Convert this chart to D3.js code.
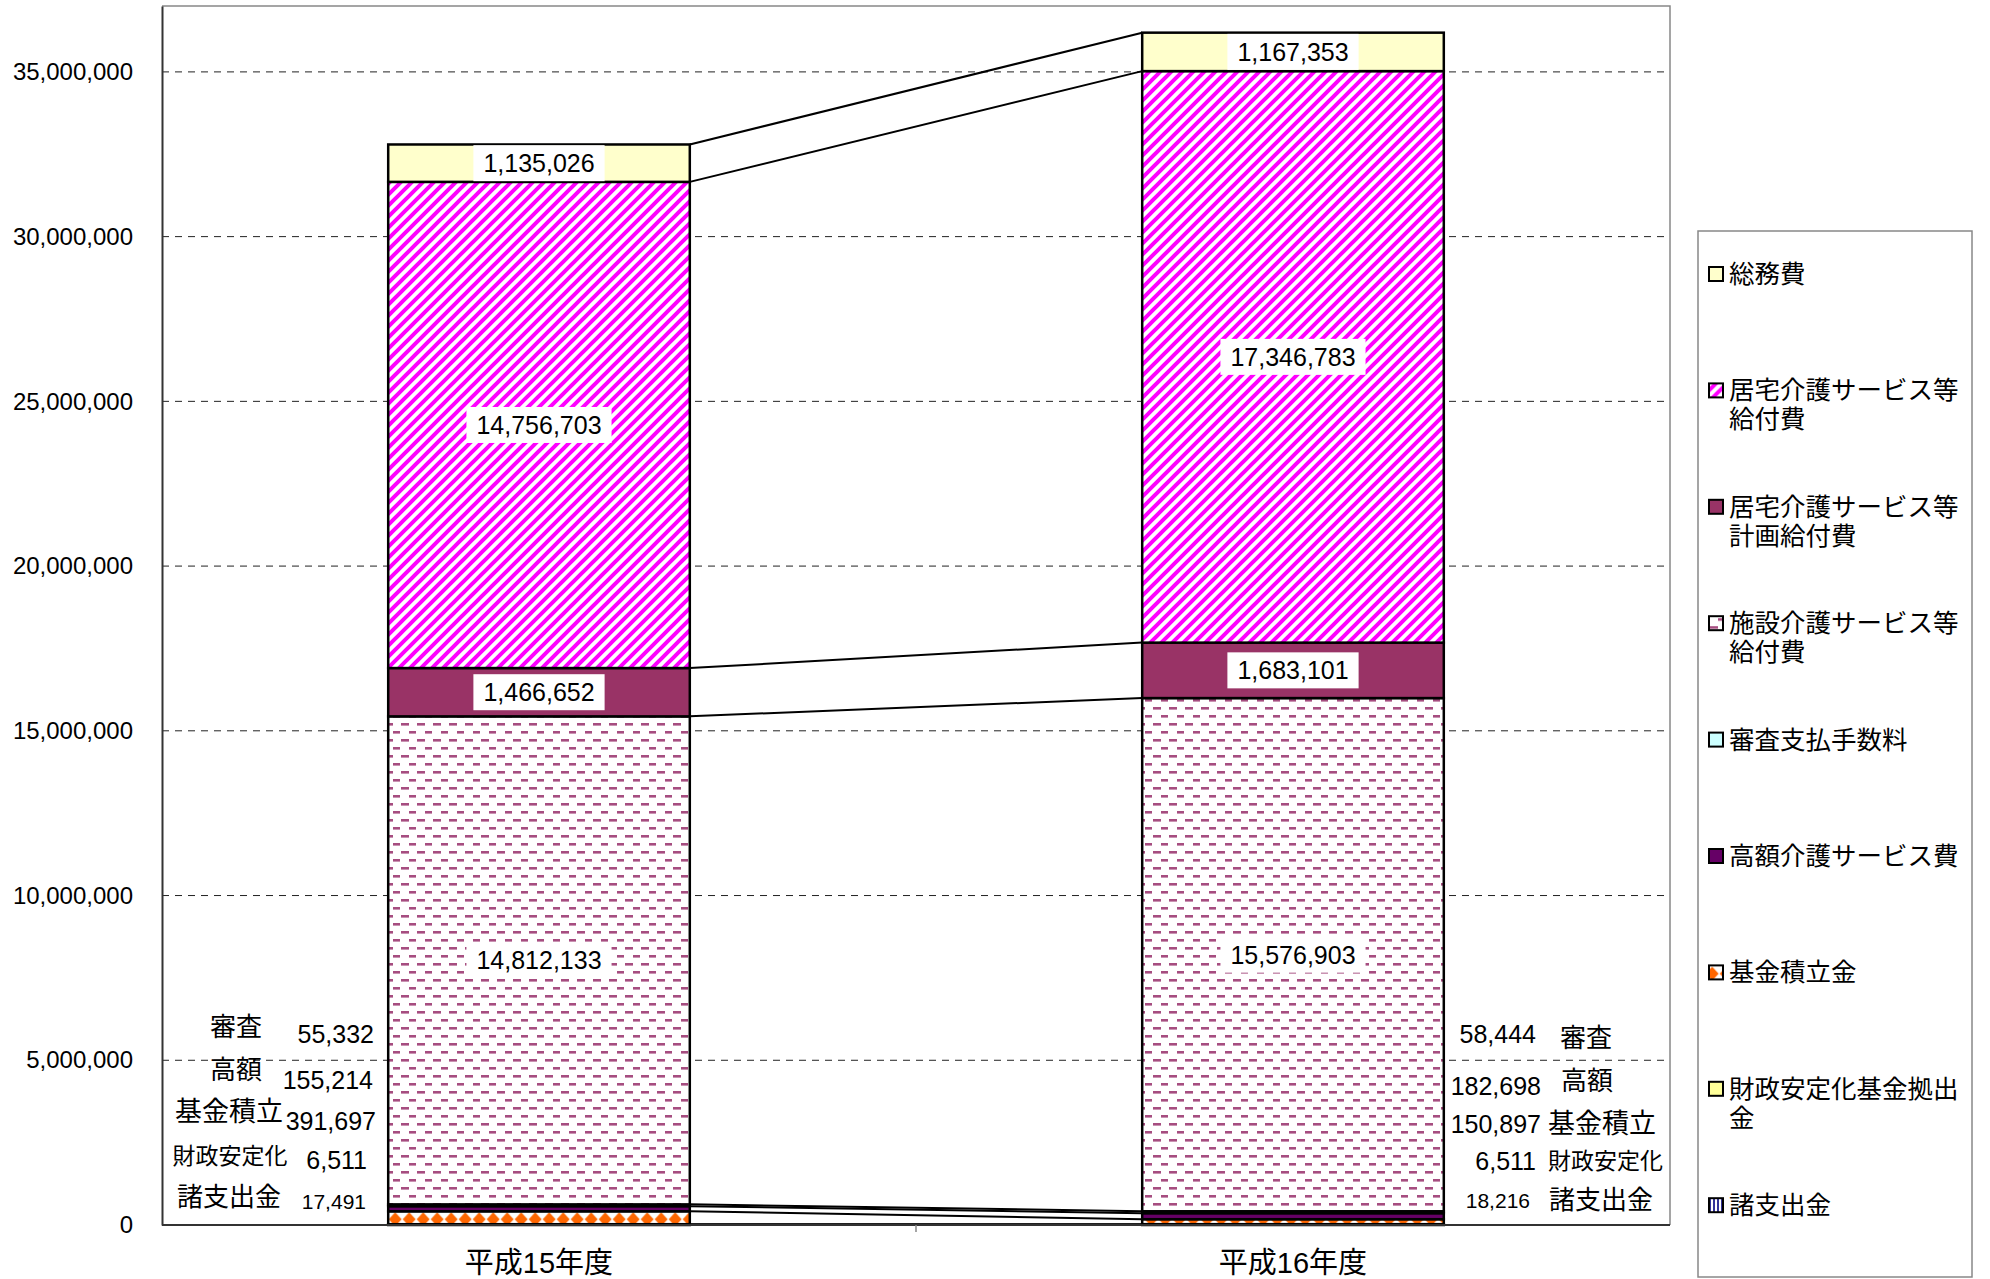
<!DOCTYPE html>
<html>
<head>
<meta charset="utf-8">
<script src="https://cdn.jsdelivr.net/npm/d3@7"></script>
<style>
  body { margin: 0; background: #fff; }
  svg { display: block; font-family: "Liberation Sans", "Noto Sans CJK JP", sans-serif; }
</style>
</head>
<body>
<div id="chart"></div>
<script>
// data
var categories = ["平成15年度", "平成16年度"];
var soumu = [1135026, 1167353];          // 総務費
var kyotakuKyufu = [14756703, 17346783]; // 居宅介護サービス等給付費
var keikaku = [1466652, 1683101];        // 居宅介護サービス等計画給付費
var shisetsu = [14812133, 15576903];     // 施設介護サービス等給付費
var shinsa = [55332, 58444];             // 審査支払手数料
var kougaku = [155214, 182698];          // 高額介護サービス費
var kikin = [391697, 150897];            // 基金積立金
var zaisei = [6511, 6511];               // 財政安定化基金拠出金
var shoshishutsu = [17491, 18216];       // 諸支出金
var yTicks = [0, 5000000, 10000000, 15000000, 20000000, 25000000, 30000000, 35000000];

// legend order (top to bottom)
var legendLabels = [
  ["総務費"],
  ["居宅介護サービス等", "給付費"],
  ["居宅介護サービス等", "計画給付費"],
  ["施設介護サービス等", "給付費"],
  ["審査支払手数料"],
  ["高額介護サービス費"],
  ["基金積立金"],
  ["財政安定化基金拠出", "金"],
  ["諸支出金"]
];
var keys = ["soumu", "kyotakuKyufu", "keikaku", "shisetsu", "shinsa", "kougaku", "kikin", "zaisei", "shoshishutsu"];
var fills = ["#FFFFCC", "url(#pStripe)", "#993366", "url(#pDash)", "#CCFFFF", "#660066", "url(#pDiamond)", "#FFFF99", "url(#pVert)"];
// small segments annotated beside the bars
var smallKeys = ["shinsa", "kougaku", "kikin", "zaisei", "shoshishutsu"];
var smallNames = ["審査", "高額", "基金積立", "財政安定化", "諸支出金"];
var bigKeys = ["soumu", "kyotakuKyufu", "keikaku", "shisetsu"];

var seriesData = {
  soumu: soumu, kyotakuKyufu: kyotakuKyufu, keikaku: keikaku, shisetsu: shisetsu,
  shinsa: shinsa, kougaku: kougaku, kikin: kikin, zaisei: zaisei, shoshishutsu: shoshishutsu
};
var table = categories.map(function (c, i) {
  var row = { cat: c };
  keys.forEach(function (k) { row[k] = seriesData[k][i]; });
  return row;
});

var width = 1990, height = 1279;
var plot = { left: 162, right: 1670, top: 6, bottom: 1225 };

var svg = d3.select("#chart").append("svg")
  .attr("width", width)
  .attr("height", height);

// scales
var x = d3.scalePoint().domain(categories).range([plot.left, plot.right]).padding(0.5);
var barW = x.step() * 0.4;
var y = d3.scaleLinear().domain([0, 37000000]).range([plot.bottom, plot.top]);

var stackOrder = keys.slice().reverse(); // bottom -> top
var stacked = d3.stack().keys(stackOrder)(table);
var kikinLayer = stacked.filter(function (l) { return l.key == "kikin"; })[0];

// patterns
var defs = svg.append("defs");
var p1 = defs.append("pattern").attr("id", "pStripe").attr("patternUnits", "userSpaceOnUse")
  .attr("width", 11).attr("height", 11);
p1.append("rect").attr("width", 11).attr("height", 11).attr("fill", "#fff");
p1.append("path").attr("d", "M-3,3 L3,-3 M0,11 L11,0 M8,14 L14,8")
  .attr("stroke", "#FF00FF").attr("stroke-width", 4);

var p2 = defs.append("pattern").attr("id", "pDash").attr("patternUnits", "userSpaceOnUse")
  .attr("width", 16).attr("height", 16);
p2.append("rect").attr("width", 16).attr("height", 16).attr("fill", "#fff");
p2.append("rect").attr("x", 1).attr("y", 3).attr("width", 8).attr("height", 2.6).attr("fill", "#a64d80");
p2.append("rect").attr("x", 9).attr("y", 11).attr("width", 8).attr("height", 2.6).attr("fill", "#a64d80");

var p3 = defs.append("pattern").attr("id", "pDiamond").attr("patternUnits", "userSpaceOnUse")
  .attr("x", x(categories[0]) - barW / 2)
  .attr("y", y(kikinLayer[0][1]))
  .attr("width", 14).attr("height", 14);
p3.append("rect").attr("width", 14).attr("height", 14).attr("fill", "#fff");
p3.append("polygon").attr("points", "7,1 13.5,8 7,15 0.5,8").attr("fill", "#FF6600");

var p4 = defs.append("pattern").attr("id", "pVert").attr("patternUnits", "userSpaceOnUse")
  .attr("width", 4).attr("height", 4);
p4.append("rect").attr("width", 4).attr("height", 4).attr("fill", "#fff");
p4.append("rect").attr("width", 2).attr("height", 4).attr("fill", "#333399");

// gridlines
svg.append("g")
  .selectAll("line")
  .data(yTicks.filter(function (d) { return d > 0; }))
  .enter()
  .append("line")
  .attr("x1", plot.left).attr("x2", plot.right)
  .attr("y1", function (d) { return y(d); })
  .attr("y2", function (d) { return y(d); })
  .attr("stroke", "#222")
  .attr("stroke-width", 1)
  .attr("stroke-dasharray", "7,6");

// plot frame (top / right gray)
svg.append("path")
  .attr("d", "M" + plot.left + "," + plot.top + "H" + plot.right + "V" + plot.bottom)
  .attr("fill", "none").attr("stroke", "#888").attr("stroke-width", 1.5);

// y axis
var yAxis = svg.append("g")
  .attr("transform", "translate(" + plot.left + ",0)")
  .call(d3.axisLeft(y).tickValues(yTicks).tickSize(0).tickPadding(29).tickFormat(d3.format(",")));
yAxis.select(".domain").attr("stroke", "#333").attr("stroke-width", 2);
yAxis.selectAll("text")
  .attr("font-size", 24)
  .attr("font-family", "Liberation Sans, sans-serif")
  .attr("fill", "#000");

// stacked bars
var barG = svg.append("g");
stacked.forEach(function (layer) {
  var k = layer.key;
  barG.append("g")
    .selectAll("rect")
    .data(layer)
    .enter()
    .append("rect")
    .attr("x", function (d) { return x(d.data.cat) - barW / 2; })
    .attr("y", function (d) { return y(d[1]); })
    .attr("width", barW)
    .attr("height", function (d) { return y(d[0]) - y(d[1]); })
    .attr("fill", fills[keys.indexOf(k)])
    .attr("stroke", "#000")
    .attr("stroke-width", 2.5);
});

// series lines between the bars
var sx1 = x(categories[0]) + barW / 2, sx2 = x(categories[1]) - barW / 2;
svg.append("g")
  .selectAll("line")
  .data(stacked)
  .enter()
  .append("line")
  .attr("x1", sx1).attr("x2", sx2)
  .attr("y1", function (l) { return y(l[0][1]); })
  .attr("y2", function (l) { return y(l[1][1]); })
  .attr("stroke", "#000")
  .attr("stroke-width", 2);

// x axis
svg.append("line")
  .attr("x1", plot.left).attr("x2", plot.right)
  .attr("y1", plot.bottom).attr("y2", plot.bottom)
  .attr("stroke", "#333").attr("stroke-width", 2);
svg.append("line")
  .attr("x1", (plot.left + plot.right) / 2).attr("x2", (plot.left + plot.right) / 2)
  .attr("y1", plot.bottom).attr("y2", plot.bottom + 7)
  .attr("stroke", "#888").attr("stroke-width", 1.5);
svg.append("g")
  .selectAll("text")
  .data(categories)
  .enter()
  .append("text")
  .attr("x", function (d) { return x(d); })
  .attr("y", 1273)
  .attr("text-anchor", "middle")
  .attr("font-size", 29)
  .text(function (d) { return d; });

// data labels in big segments
var fmt = d3.format(",");
stacked.filter(function (l) { return bigKeys.indexOf(l.key) != -1; }).forEach(function (layer) {
  layer.forEach(function (d) {
    var cx = x(d.data.cat);
    var cy = y((d[0] + d[1]) / 2);
    var g = svg.append("g");
    var bg = g.append("rect").attr("fill", "#fff");
    var t = g.append("text")
      .attr("x", cx).attr("y", cy + 9)
      .attr("text-anchor", "middle")
      .attr("font-size", 25)
      .text(fmt(d[1] - d[0]));
    var w = t.node().getComputedTextLength();
    bg.attr("x", cx - w / 2 - 10).attr("y", cy - 18).attr("width", w + 20).attr("height", 36);
  });
});

// annotations for the small segments
var leftNameX = [236, 236, 229, 230, 229];
var leftNameY = [1027, 1070, 1112, 1156, 1197];
var leftValX = [374, 373, 376, 367, 366];
var leftValY = [1034, 1080, 1121, 1160, 1201];
var rightValX = [1536, 1541, 1541, 1536, 1530];
var rightValY = [1034, 1086, 1124, 1161, 1200];
var rightNameX = [1560, 1561, 1548, 1548, 1549];
var rightNameY = [1038, 1081, 1124, 1161, 1200];
var nameSize = [26, 26, 27, 23, 26];
var valSize = [25, 25, 25, 25, 21];

var ann = svg.append("g").attr("dominant-baseline", "central");
smallKeys.forEach(function (k, i) {
  ann.append("text").attr("x", leftNameX[i]).attr("y", leftNameY[i])
    .attr("text-anchor", "middle").attr("font-size", nameSize[i]).text(smallNames[i]);
  ann.append("text").attr("x", leftValX[i]).attr("y", leftValY[i])
    .attr("text-anchor", "end").attr("font-size", valSize[i]).text(fmt(seriesData[k][0]));
  ann.append("text").attr("x", rightValX[i]).attr("y", rightValY[i])
    .attr("text-anchor", "end").attr("font-size", valSize[i]).text(fmt(seriesData[k][1]));
  ann.append("text").attr("x", rightNameX[i]).attr("y", rightNameY[i])
    .attr("text-anchor", "start").attr("font-size", nameSize[i]).text(smallNames[i]);
});

// legend
var legend = svg.append("g");
legend.append("rect")
  .attr("x", 1698).attr("y", 231).attr("width", 274).attr("height", 1046)
  .attr("fill", "#fff").attr("stroke", "#888").attr("stroke-width", 1.5);
var item = legend.selectAll("g.item")
  .data(legendLabels)
  .enter()
  .append("g")
  .attr("class", "item")
  .attr("transform", function (d, i) { return "translate(1709," + (274 + i * 116.4) + ")"; });
item.append("rect")
  .attr("x", 0).attr("y", -7).attr("width", 14).attr("height", 14)
  .attr("fill", function (d, i) { return fills[i]; })
  .attr("stroke", "#000").attr("stroke-width", 2);
item.each(function (d) {
  var g = d3.select(this);
  d.forEach(function (line, j) {
    g.append("text")
      .attr("x", 20).attr("y", 9 + j * 29)
      .attr("font-size", 25.5)
      .attr("font-family", "Noto Sans CJK JP, sans-serif")
      .text(line);
  });
});
</script>
</body>
</html>
